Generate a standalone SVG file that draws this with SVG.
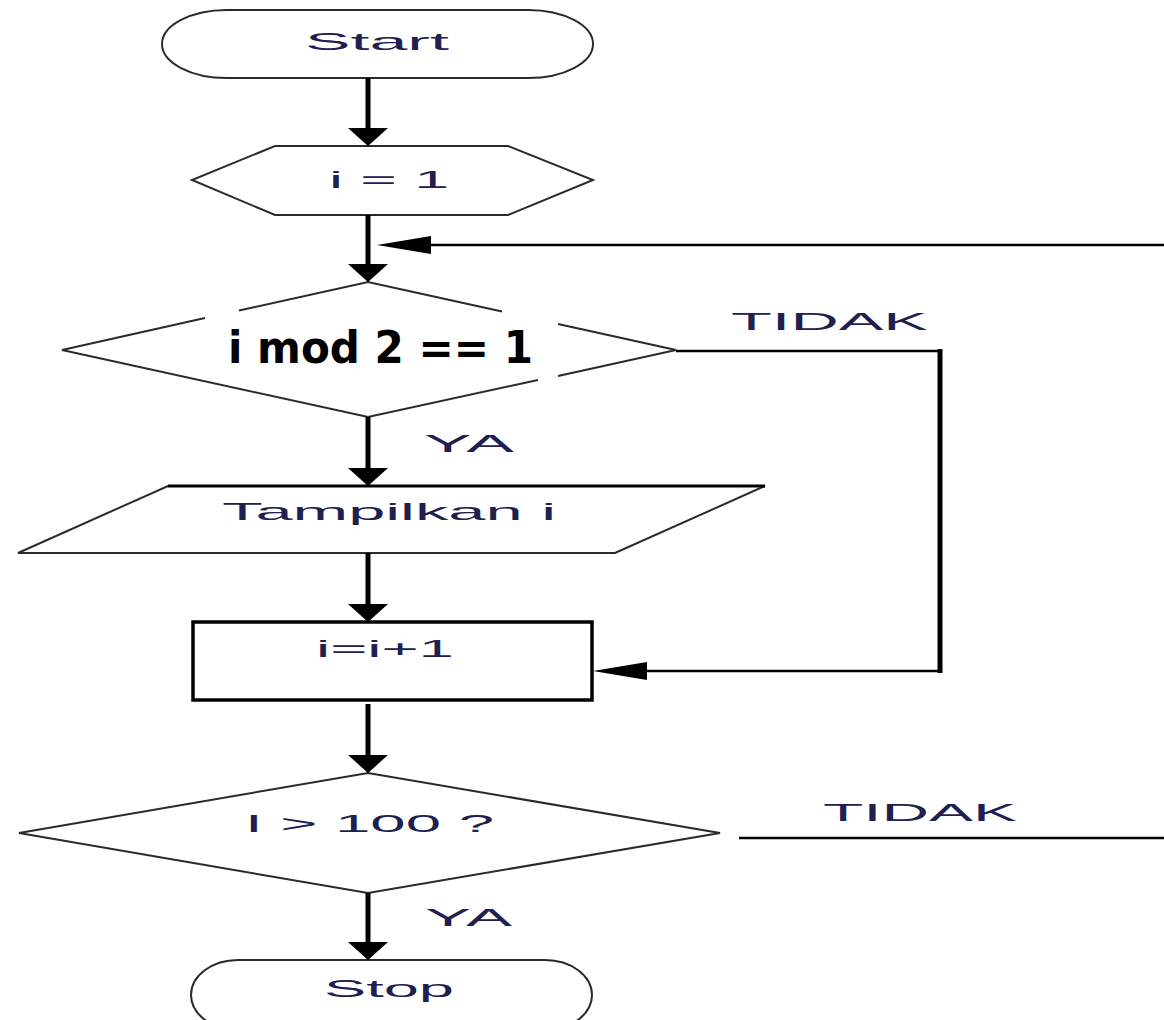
<svg xmlns="http://www.w3.org/2000/svg" width="1164" height="1020" viewBox="0 0 1164 1020">
<style>
.shape{fill:#fff;stroke:#2a2a2a;stroke-width:2}
.lbl{font-family:"Liberation Sans",Arial,sans-serif;font-size:24px;fill:#202050}
.thick{stroke:#000;stroke-width:5;fill:none}
.thin{stroke:#000;stroke-width:2.5;fill:none}
.bold{font-family:"DejaVu Sans",sans-serif;font-weight:bold;font-size:44px;fill:#000}
</style>
<defs>
<polygon id="down" points="-20,0 20,0 0,18" fill="#000"/>
<polygon id="left" points="0,0 54,-9 54,9" fill="#000"/>
</defs>
<rect width="1164" height="1020" fill="#fff"/>
<g id="start">
<rect class="shape" x="162" y="10" width="431" height="68" rx="65" ry="34"/>
<text class="lbl" x="305" y="50" textLength="144" lengthAdjust="spacingAndGlyphs">Start</text>
</g>
<g id="init">
<polygon class="shape" points="275,146 508,146 593,180 508,215 275,215 192,180"/>
<text class="lbl" x="329" y="188" textLength="120" lengthAdjust="spacingAndGlyphs">i = 1</text>
</g>
<g id="cond1">
<path class="shape" fill="none" d="M205,318 L62,350 L368,417 L538,380 M558,376 L676,350 L558,324 M502,311.5 L368,282 L239,310.5"/>
<text class="bold" x="228" y="363" textLength="305" lengthAdjust="spacingAndGlyphs">i mod 2 == 1</text>
</g>
<g id="output">
<polygon class="shape" points="168,486 765,486 615,553 18,553"/>
<line x1="168" y1="486" x2="765" y2="486" stroke="#000" stroke-width="3"/>
<text class="lbl" x="222" y="520" textLength="334" lengthAdjust="spacingAndGlyphs">Tampilkan i</text>
</g>
<g id="incr">
<rect x="193" y="622" width="399" height="78" fill="#fff" stroke="#000" stroke-width="3.5"/>
<text class="lbl" x="316" y="657" textLength="138" lengthAdjust="spacingAndGlyphs">i=i+1</text>
</g>
<g id="cond2">
<polygon class="shape" points="368,773 720,833 368,893 19,833"/>
<text class="lbl" x="245" y="832" textLength="249" lengthAdjust="spacingAndGlyphs">I &gt; 100 ?</text>
</g>
<g id="stop">
<rect class="shape" x="191" y="960" width="401" height="70" rx="47" ry="35"/>
<text class="lbl" x="324" y="997" textLength="130" lengthAdjust="spacingAndGlyphs">Stop</text>
</g>
<g id="connectors">
<line class="thick" x1="368" y1="78" x2="368" y2="130"/>
<use href="#down" x="368" y="128"/>
<line class="thick" x1="368" y1="215" x2="368" y2="266"/>
<use href="#down" x="368" y="264"/>
<line class="thick" x1="368" y1="417" x2="368" y2="470"/>
<use href="#down" x="368" y="468"/>
<line class="thick" x1="368" y1="553" x2="368" y2="606"/>
<use href="#down" x="368" y="604"/>
<line class="thick" x1="368" y1="704" x2="368" y2="757"/>
<use href="#down" x="368" y="755"/>
<line class="thick" x1="368" y1="893" x2="368" y2="944"/>
<use href="#down" x="368" y="942"/>
<line class="thin" x1="1164" y1="245" x2="428" y2="245"/>
<use href="#left" x="377" y="245"/>
<polyline class="thin" points="676,351 940,351"/>
<line class="thick" x1="940" y1="349" x2="940" y2="673"/>
<line class="thin" x1="940" y1="671" x2="636" y2="671"/>
<use href="#left" x="593" y="671"/>
<line class="thin" x1="739" y1="838" x2="1164" y2="838"/>
<text class="lbl" x="731" y="330" textLength="197" lengthAdjust="spacingAndGlyphs">TIDAK</text>
<text class="lbl" x="424" y="452" textLength="90" lengthAdjust="spacingAndGlyphs">YA</text>
<text class="lbl" x="823" y="821" textLength="194" lengthAdjust="spacingAndGlyphs">TIDAK</text>
<text class="lbl" x="425" y="926" textLength="87" lengthAdjust="spacingAndGlyphs">YA</text>
</g>
</svg>
